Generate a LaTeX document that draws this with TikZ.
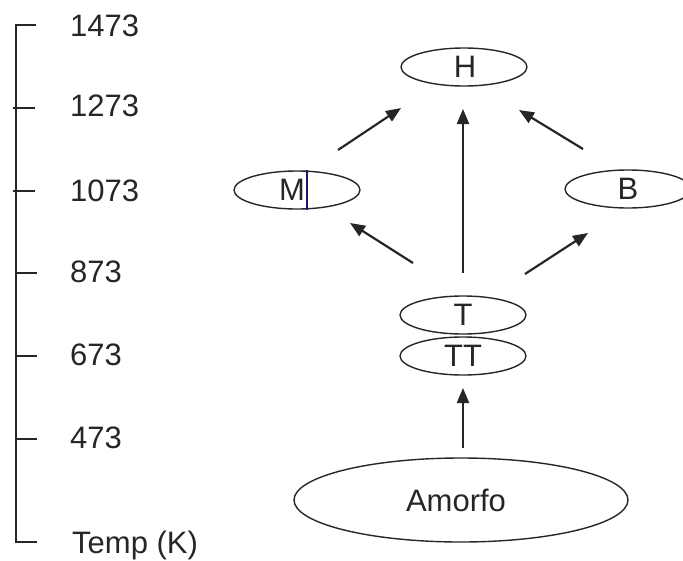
\documentclass[tikz,border=0pt]{standalone}
\usepackage{fontspec}
\setmainfont{Liberation Sans}
\usetikzlibrary{shapes.geometric,arrows.meta}
\definecolor{ink}{HTML}{262626}
\definecolor{cursorblue}{HTML}{1A1A6E}
\begin{document}
\begin{tikzpicture}[x=1pt,y=-1pt,
  every node/.style={font=\fontsize{31}{36}\selectfont, text=ink},
  phase/.style={ellipse, draw=ink, line width=1.4pt, inner sep=0pt, minimum width=126pt, minimum height=38pt},
  axis/.style={draw=ink, line width=1.8pt},
  arr/.style={draw=ink, line width=2.2pt, -{Triangle[length=15pt,width=12pt]}},
  lbl/.style={anchor=west, inner sep=0pt}
]
\useasboundingbox (0,0) rectangle (683,560);
\clip (0,0) rectangle (683,560);
% axis
\coordinate (atop) at (16,25);
\coordinate (abot) at (16,542);
\draw[axis] (36,25) -- (atop) -- (abot) -- (37,542);
\draw[axis] (13,108) -- (35,108);
\draw[axis] (13,191) -- (35,191);
\draw[axis] (16,273) -- (37,273);
\draw[axis] (16,356) -- (37,356);
\draw[axis] (16,439) -- (37,439);
\node[lbl] (l1473) at (70,26) {1473};
\node[lbl] (l1273) at (70,106) {1273};
\node[lbl] (l1073) at (70,191) {1073};
\node[lbl] (l873) at (70,272) {873};
\node[lbl] (l673) at (70,355) {673};
\node[lbl] (l473) at (70,438) {473};
\node[lbl] (ltemp) at (72,545) {Temp (K)};
% phases
\node[phase] (H) at (464,67) {};
\node (Ht) at (465,67) {H};
\node[phase] (M) at (297,190) {};
\node (Mt) at (292,190) {M};
\draw[cursorblue, line width=1.2pt] (307,170) -- (307,210);
\node[phase] (B) at (628,189) {};
\node (Bt) at (628,189) {B};
\node[phase] (T) at (463,315) {};
\node (Tt) at (463,315) {T};
\node[phase] (TT) at (463,356) {};
\node (TTt) at (463,356) {TT};
\node[phase, minimum width=334pt, minimum height=84pt] (A) at (461,500) {};
\node (At) at (456,500) {Amorfo};
% arrow ends
\coordinate (a1s) at (463,448); \coordinate (a1e) at (463,388);
\coordinate (a2s) at (463,273); \coordinate (a2e) at (463,109);
\coordinate (a3s) at (413,263); \coordinate (a3e) at (350,223);
\coordinate (a4s) at (525,274); \coordinate (a4e) at (588,233);
\coordinate (a5s) at (338,150); \coordinate (a5e) at (401,108);
\coordinate (a6s) at (583,149); \coordinate (a6e) at (519,110);
\draw[arr] (a1s) -- (a1e);
\draw[arr] (a2s) -- (a2e);
\draw[arr] (a3s) -- (a3e);
\draw[arr] (a4s) -- (a4e);
\draw[arr] (a5s) -- (a5e);
\draw[arr] (a6s) -- (a6e);
\end{tikzpicture}
\end{document}
